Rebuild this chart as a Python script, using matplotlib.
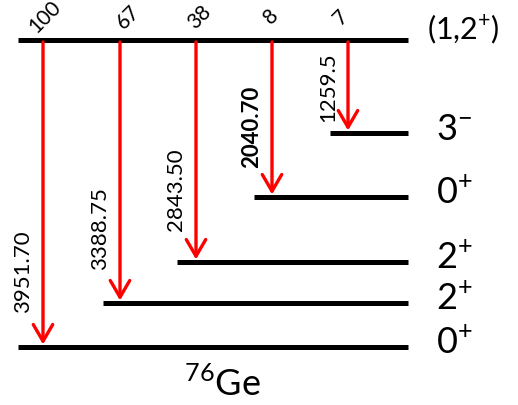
import matplotlib
matplotlib.use('Agg')
import matplotlib.pyplot as plt

plt.rcParams['font.family'] = ['Lato', 'DejaVu Sans']
plt.rcParams['mathtext.fontset'] = 'custom'
plt.rcParams['mathtext.rm'] = 'Lato'

# Level scheme of 76Ge (schematic heights, not to scale)
top_spin = r'(1,2$^{+}$)'
level_spins = [r'0$^{+}$', r'2$^{+}$', r'2$^{+}$', r'0$^{+}$', r'3$^{-}$']
level_y = [347, 303, 262, 197, 133]      # schematic vertical position
level_x0 = [18, 103, 177, 254, 330]      # where each level line starts
top_y = 40

# gamma transitions from the (1,2+) level
gamma_energy = ['3951.70', '3388.75', '2843.50', '2040.70', '1259.5']
gamma_intensity = ['100', '67', '38', '8', '7']
gamma_x = [43, 120, 196, 272, 348]
bold_energy = [False, False, False, True, False]

# layout tweaks
X_LEFT, X_RIGHT = 18, 408
label_y = [272, 229, 190, 127, 87]
inten_dx = [2, 8, 3, -1, -7]

fig = plt.figure(figsize=(5.18, 4.05), dpi=100)
ax = fig.add_axes([0, 0, 1, 1])
ax.set_xlim(0, 518)
ax.set_ylim(405, 0)
ax.axis('off')

# levels
ax.plot([X_LEFT, X_RIGHT], [top_y, top_y], color='black', lw=3.6, solid_capstyle='butt')
ax.text(427, top_y - 11, top_spin, fontsize=22, va='center', ha='left')
for y, x0, s in zip(level_y, level_x0, level_spins):
    ax.plot([x0, X_RIGHT], [y, y], color='black', lw=3.6, solid_capstyle='butt')
    ax.text(436, y - 4, s, fontsize=26, va='center', ha='left')

# transitions
for i in range(len(gamma_x)):
    x = gamma_x[i]
    y_end = level_y[i] - 2.5
    ax.annotate('', xy=(x, y_end), xytext=(x, top_y + 2),
                arrowprops=dict(arrowstyle='->,head_length=1.2,head_width=0.7',
                                color='red', lw=2.4, mutation_scale=10,
                                shrinkA=0, shrinkB=0))
    ax.text(x - 20, label_y[i], gamma_energy[i], rotation=90, fontsize=16,
            ha='center', va='center',
            fontweight='bold' if bold_energy[i] else 'normal')
    ax.text(x + inten_dx[i], 17, gamma_intensity[i], rotation=45, fontsize=15,
            ha='center', va='center', rotation_mode='anchor')

ax.text(222, 384, r'$^{76}$Ge', fontsize=26, ha='center', va='center')

fig.savefig('out.png', dpi=100)
